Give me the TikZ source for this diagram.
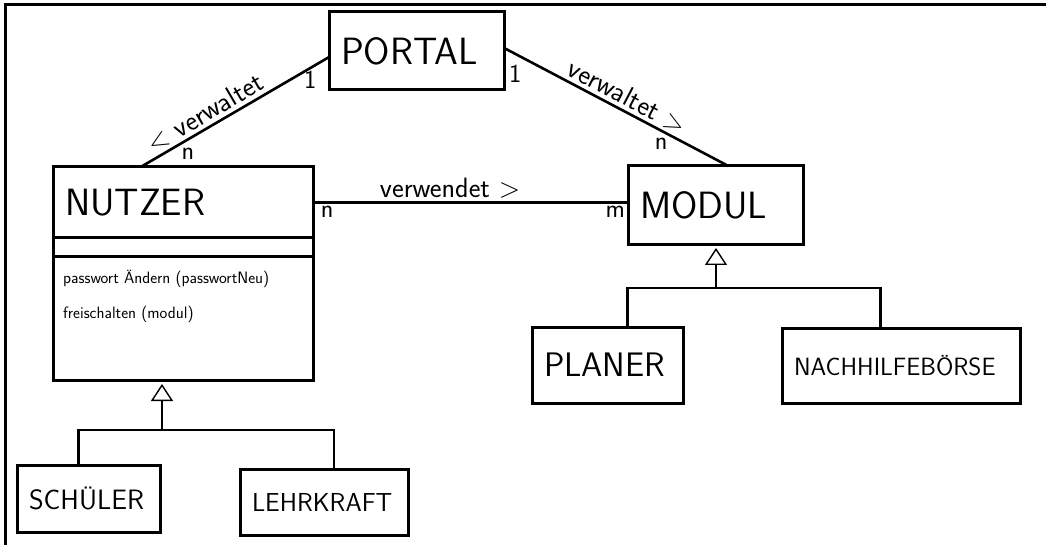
\documentclass[tikz,border=0pt]{standalone}
\usepackage{fontspec}
\usetikzlibrary{arrows.meta, positioning, calc}

\tikzset{
  klasse/.style 2 args={draw, line width=3pt, outer sep=0pt, inner xsep=12pt, inner ysep=2pt,
    text width=#1, minimum height=#2, align=left, font=\sffamily\fontsize{38}{44}\selectfont},
  fach/.style={draw, line width=3pt, outer sep=0pt, inner sep=0pt, minimum width=#1},
  methode/.style={font=\sffamily\fontsize{16.5}{35}\selectfont, align=left, inner sep=0pt},
  assoz/.style={line width=2.6pt},
  erbt/.style={line width=1.4pt, -{Triangle[open, length=17pt, width=22pt, line width=1.4pt]}},
  rolle/.style={font=\sffamily\fontsize{28}{32}\selectfont, inner sep=3pt},
  mult/.style={font=\sffamily\fontsize{26}{30}\selectfont, inner sep=2pt},
}

\begin{document}
\begin{tikzpicture}[x=1pt, y=-1pt]
	\useasboundingbox (0,0) rectangle (1046,545);
	\draw[line width=3.5pt] (5.5,545) -- (5.5,4.5) -- (1046,4.5);
	% Klassen
	\node[klasse={151pt}{78pt}] (portal) at (416.5,51) {PORTAL};
	\node[klasse={236pt}{71pt}] (nutzer) at (183,202.5) {NUTZER};
	\node[fach=260pt, minimum height=19pt, below=0pt of nutzer] (nutzerattr) {};
	\node[fach=260pt, minimum height=123pt, below=0pt of nutzerattr] (nutzermeth) {};
	\node[methode, anchor=north west] (methoden) at ([xshift=10pt, yshift=-13pt]nutzermeth.north west)
	{passwort Ändern (passwortNeu)\\freischalten (modul)};
	\node[klasse={151pt}{79pt}] (modul) at (715.5,205.5) {MODUL};
	\node[klasse={127pt}{76pt}, font=\sffamily\fontsize{34}{40}\selectfont] (planer) at (607.5,365) {PLANER};
	\node[klasse={214pt}{75pt}, font=\sffamily\fontsize{25}{30}\selectfont] (nachhilfe) at (901,365.5) {NACHHILFEBÖRSE};
	\node[klasse={119pt}{67pt}, font=\sffamily\fontsize{28}{32}\selectfont] (schueler) at (88.5,498.5) {SCHÜLER};
	\node[klasse={144pt}{66pt}, font=\sffamily\fontsize{26}{30}\selectfont] (lehrkraft) at (324,502) {LEHRKRAFT};
	% Assoziationen
	\draw[assoz] (nutzer.140.5) -- node[rolle, sloped, above, pos=0.38] {< verwaltet}
	node[mult, pos=0.2, below right] {n} node[mult, pos=0.9, below] {1} (portal.184);
	\draw[assoz] (portal.2.6) -- node[rolle, sloped, above, pos=0.52] {verwaltet >}
	node[mult, pos=0.05, below=8pt] {1} node[mult, pos=0.7, below=4pt] {n} (modul.72.4);
	\draw[assoz] (nutzer.east) -- node[rolle, above, pos=0.435] {verwendet >}
	node[mult, pos=0.045, below] {n} node[mult, pos=0.96, below] {m} (nutzer.east -| modul.west);
	% Vererbung
	\coordinate (gnutzer) at (162,430);
	\coordinate (gmodul) at (716,288);
	\draw[assoz] (schueler.107) |- (gnutzer) -| (lehrkraft.73);
	\draw[erbt, shorten >=4pt] (gnutzer) -- (gnutzer |- nutzermeth.south);
	\draw[assoz] (planer.62.8) |- (gmodul) -| (nachhilfe.119.2);
	\draw[erbt, shorten >=3pt] (gmodul) -- (gmodul |- modul.south);
\end{tikzpicture}
\end{document}
